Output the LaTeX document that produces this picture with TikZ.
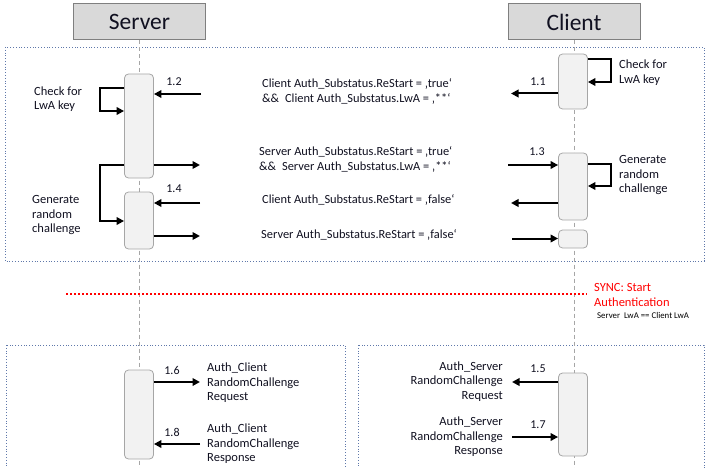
\documentclass[tikz,border=0pt]{standalone}
\usepackage{fontspec}
\setmainfont{Carlito}
\usetikzlibrary{arrows.meta}
\definecolor{hdrfill}{HTML}{D9D9D9}
\definecolor{hdrdraw}{HTML}{7F7F7F}
\definecolor{actfill}{HTML}{F2F2F2}
\definecolor{actdraw}{HTML}{A6A6A6}
\definecolor{boxdraw}{HTML}{5F78AA}
\definecolor{lifecol}{HTML}{A6A6A6}
\definecolor{txtcol}{HTML}{101020}
\definecolor{syncred}{HTML}{FF0000}
\begin{document}
\begin{tikzpicture}[x=1pt,y=-1pt,
  hdr/.style={draw=hdrdraw, line width=1pt, fill=hdrfill, minimum width=132pt, minimum height=36pt, inner sep=0pt, font=\fontsize{23.5}{26}\selectfont, text=txtcol},
  act/.style={draw=actdraw, line width=0.8pt, fill=actfill, rounded corners=4pt, minimum width=29pt, inner sep=0pt},
  life/.style={draw=lifecol, line width=0.9pt, dash pattern=on 4pt off 3pt},
  framebox/.style={draw=boxdraw, line width=0.8pt, dotted},
  msg/.style={draw=black, line width=2pt, -{Triangle[length=7.5pt,width=7.5pt]}},
  numlbl/.style={font=\fontsize{12}{14}\selectfont, text=txtcol, inner sep=0pt},
  msgtxt/.style={font=\fontsize{12.4}{15}\selectfont, text=txtcol, align=left, inner sep=0pt},
  sidetxt/.style={font=\fontsize{12.5}{14.5}\selectfont, text=txtcol, align=left, inner sep=0pt, anchor=west},
  sync/.style={draw=syncred, line width=1.8pt, dash pattern=on 1.8pt off 2.2pt}
]
\useasboundingbox (0,0) rectangle (725,468);

% frames
\draw[framebox] (5,47) rectangle (704,261);
\draw[framebox] (6,345) rectangle (345,480);
\draw[framebox] (358,345) rectangle (704,480);

% headers
\node[hdr] (srv) at (139.5,22) {Server};
\node[hdr] (cli) at (574,22) {Client};

% lifelines
\coordinate (srvend) at (139.5,470);
\coordinate (cliend) at (574,470);
\draw[life] (srv.south) -- (srvend);
\draw[life] (cli.south) -- (cliend);

% activations
\node[act, minimum height=104pt] (sa1) at (139,126) {};
\node[act, minimum height=57pt] (sa2) at (139,220.5) {};
\node[act, minimum height=55pt] (ca1) at (573,81.5) {};
\node[act, minimum height=67pt] (ca2) at (573,186.5) {};
\node[act, minimum height=18pt] (ca3) at (573,239) {};
\node[act, minimum height=89pt] (sa3) at (139,414.5) {};
\node[act, minimum height=83pt] (ca4) at (573,414.5) {};

% top messages
\coordinate (e12) at (201,94);
\draw[msg] (e12) -- (e12 -| sa1.east);
\node[numlbl] (n12) at (174,82) {1.2};
\coordinate (e11) at (511,93.5);
\draw[msg] (e11 -| ca1.west) -- (e11);
\node[numlbl] (n11) at (538,82) {1.1};
\coordinate (es1) at (200,165);
\draw[msg] (es1 -| sa1.east) -- (es1);
\coordinate (e13) at (508,165);
\draw[msg] (e13) -- (e13 -| ca2.west);
\node[numlbl] (n13) at (537,152) {1.3};
\coordinate (e14) at (200,203);
\draw[msg] (e14) -- (e14 -| sa2.east);
\node[numlbl] (n14) at (174,189) {1.4};
\coordinate (ec1) at (511,203);
\draw[msg] (ec1 -| ca2.west) -- (ec1);
\coordinate (es2) at (200,236);
\draw[msg] (es2 -| sa2.east) -- (es2);
\coordinate (ec2) at (512,238.5);
\draw[msg] (ec2) -- (ec2 -| ca3.west);

% self loops server
\coordinate (ls1a) at (100,88);
\coordinate (ls1b) at (100,111);
\draw[msg] (ls1a -| sa1.west) -- (ls1a) -- (ls1b) -- (ls1b -| sa1.west);
\coordinate (ls2a) at (100,165);
\coordinate (ls2b) at (100,221);
\draw[msg] (ls2a -| sa1.west) -- (ls2a) -- (ls2b) -- (ls2b -| sa2.west);
% self loops client
\coordinate (lc1a) at (611,59);
\coordinate (lc1b) at (611,82);
\draw[msg] (lc1a -| ca1.east) -- (lc1a) -- (lc1b) -- (lc1b -| ca1.east);
\coordinate (lc2a) at (611,164);
\coordinate (lc2b) at (611,186);
\draw[msg] (lc2a -| ca2.east) -- (lc2a) -- (lc2b) -- (lc2b -| ca2.east);

% side labels
\node[sidetxt] (ts1) at (34,99) {Check for\\LwA key};
\node[sidetxt] (ts2) at (32,215.5) {Generate\\random\\challenge};
\node[sidetxt] (tc1) at (619,72.5) {Check for\\LwA key};
\node[sidetxt] (tc2) at (619,175.5) {Generate\\random\\challenge};

% message texts
\node[msgtxt, anchor=west] (t1) at (262,91.5) {Client Auth\_Substatus.ReStart = ‚true‘\\\&\&\hspace{6pt}Client Auth\_Substatus.LwA = ‚**‘};
\node[msgtxt, anchor=west] (t2) at (259,159.5) {Server Auth\_Substatus.ReStart = ‚true‘\\\&\&\hspace{6pt}Server Auth\_Substatus.LwA = ‚**‘};
\node[msgtxt, anchor=west] (t3) at (262,200) {Client Auth\_Substatus.ReStart = ‚false‘};
\node[msgtxt, anchor=west] (t4) at (261,235) {Server Auth\_Substatus.ReStart = ‚false‘};

% sync
\coordinate (sy1) at (66,294);
\coordinate (sy2) at (587,294);
\draw[sync] (sy1) -- (sy2);
\node[font=\fontsize{12.5}{15}\selectfont, text=syncred, align=left, anchor=west, inner sep=0pt] (syt) at (594,294.5) {SYNC: Start\\Authentication};
\node[font=\fontsize{8.8}{10}\selectfont, text=black, anchor=west, inner sep=0pt] (sys) at (597,315) {Server\ \ LwA == Client LwA};

% lower messages server
\coordinate (e16) at (200,382);
\draw[msg] (e16 -| sa3.east) -- (e16);
\node[numlbl] (n16) at (172,370) {1.6};
\coordinate (e18) at (200,444);
\draw[msg] (e18) -- (e18 -| sa3.east);
\node[numlbl] (n18) at (172,432) {1.8};
\node[sidetxt] (t16) at (207,383) {Auth\_Client\\RandomChallenge\\Request};
\node[sidetxt] (t18) at (207,444) {Auth\_Client\\RandomChallenge\\Response};

% lower messages client
\coordinate (e15) at (512,382);
\draw[msg] (e15 -| ca4.west) -- (e15);
\node[numlbl] (n15) at (538,369) {1.5};
\coordinate (e17) at (512,437);
\draw[msg] (e17) -- (e17 -| ca4.west);
\node[numlbl] (n17) at (538,425) {1.7};
\node[sidetxt, anchor=east, align=right] (t15) at (503,381.5) {Auth\_Server\\RandomChallenge\\Request};
\node[sidetxt, anchor=east, align=right] (t17) at (503,437) {Auth\_Server\\RandomChallenge\\Response};

\end{tikzpicture}
\end{document}
